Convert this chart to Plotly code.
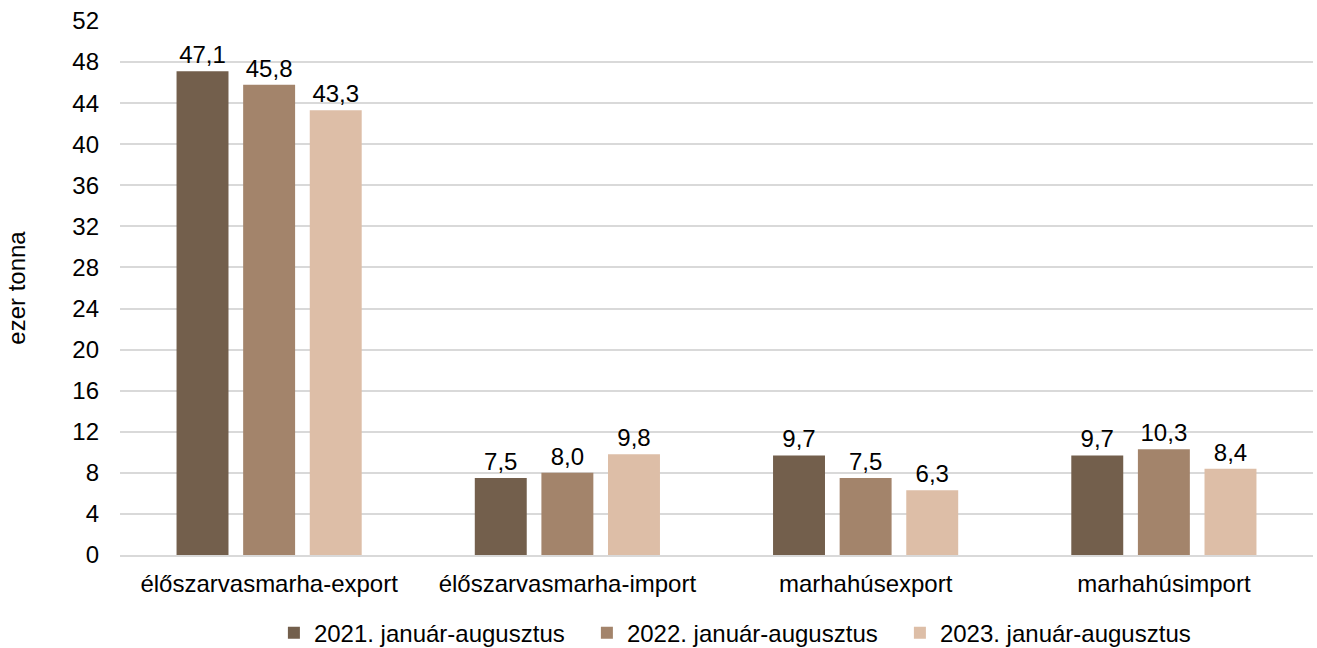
import plotly.graph_objects as go

categories = ["élőszarvasmarha-export", "élőszarvasmarha-import", "marhahúsexport", "marhahúsimport"]
series_names = ["2021. január-augusztus", "2022. január-augusztus", "2023. január-augusztus"]
values_2021 = [47.1, 7.5, 9.7, 9.7]
values_2022 = [45.8, 8.0, 7.5, 10.3]
values_2023 = [43.3, 9.8, 6.3, 8.4]
colors = ["#735F4C", "#A3846B", "#DDBEA7"]
y_ticks = list(range(0, 53, 4))

FONT = "Liberation Sans, Arial"
FS = 24

fig = go.Figure()
for name, vals, col in zip(series_names, [values_2021, values_2022, values_2023], colors):
    fig.add_trace(go.Bar(
        x=categories, y=vals, name=name,
        marker=dict(color=col, line=dict(width=0)),
        text=[f"{v:.1f}".replace(".", ",") for v in vals],
        textposition="outside",
        textfont=dict(family=FONT, size=FS, color="#000000"),
        cliponaxis=False,
    ))

fig.update_layout(
    width=1317, height=648,
    margin=dict(l=120, r=4, t=21, b=93),
    paper_bgcolor="white", plot_bgcolor="white",
    barmode="group", bargap=0.33, bargroupgap=0.22,
    font=dict(family=FONT, size=FS, color="#000000"),
    showlegend=True,
    legend=dict(orientation="h", x=0.129, xanchor="left",
                yref="container", y=0.0231, yanchor="middle",
                font=dict(size=FS), itemwidth=30, traceorder="normal",
                entrywidth=268, entrywidthmode="pixels"),
    yaxis=dict(range=[0, 52], tickvals=y_ticks, showgrid=True, gridcolor="#D9D9D9", gridwidth=1.5,
               zeroline=False, showline=False, ticks="", ticklabelstandoff=20, automargin=False,
               title=dict(text="ezer tonna", font=dict(size=FS), standoff=39)),
    xaxis=dict(showline=True, linecolor="#D9D9D9", linewidth=1.5, ticks="", ticklabelstandoff=6,
               automargin=False),
)

fig.write_html("out.html", config={"displayModeBar": False},
               post_script="document.body.style.margin='0';")
